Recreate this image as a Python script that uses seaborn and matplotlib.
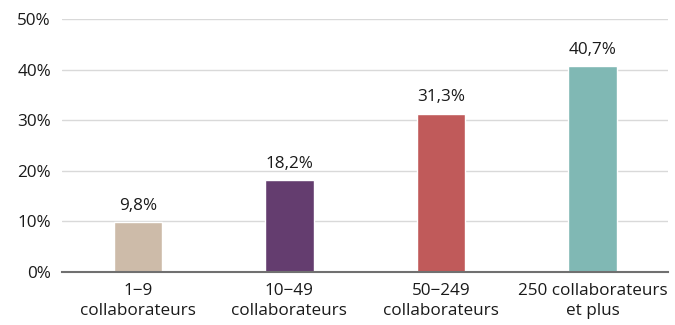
import matplotlib
matplotlib.use("Agg")
import matplotlib.pyplot as plt
import seaborn as sns
import pandas as pd

categories = ["1−9\ncollaborateurs", "10−49\ncollaborateurs", "50−249\ncollaborateurs", "250 collaborateurs\net plus"]
values = [9.8, 18.2, 31.3, 40.7]
value_labels = ["9,8%", "18,2%", "31,3%", "40,7%"]
colors = ["#CDBBA9", "#643D6F", "#C05A5A", "#80B8B4"]
yticks = [0, 10, 20, 30, 40, 50]
ytick_labels = ["0%", "10%", "20%", "30%", "40%", "50%"]

sns.set_theme(style="white")
plt.rcParams['font.family'] = ['Open Sans', 'DejaVu Sans']

df = pd.DataFrame({"cat": categories, "val": values})

fig = plt.figure(figsize=(6.75, 3.25), dpi=100)
ax = fig.add_axes([0.092, 0.163, 0.898, 0.778])
sns.barplot(data=df, x="cat", y="val", hue="cat", palette=colors, width=0.32,
            legend=False, ax=ax, saturation=1, zorder=3)

fs = 12.3
ax.set_ylim(0, 50)
ax.set_xlim(-0.5, 3.5)
ax.set_yticks(yticks)
ax.set_yticklabels(ytick_labels, fontsize=fs, color="#1a1a1a")
ax.tick_params(axis="x", labelsize=fs, colors="#1a1a1a", length=0, pad=8)
ax.tick_params(axis="y", length=0, pad=8)
for t in ax.get_xticklabels():
    t.set_linespacing(1.3)
ax.yaxis.grid(True, color="#D9D9D9", linewidth=1, zorder=0)
ax.set_axisbelow(True)
for s in ["top", "right", "left"]:
    ax.spines[s].set_visible(False)
ax.spines["bottom"].set_color("#707070")
ax.spines["bottom"].set_linewidth(1.5)
ax.spines["bottom"].set_zorder(5)
ax.set_xlabel("")
ax.set_ylabel("")

for i, (v, lab) in enumerate(zip(values, value_labels)):
    ax.annotate(lab, (i, v), xytext=(0, 6), textcoords="offset points",
                ha="center", va="bottom", fontsize=fs, color="#1a1a1a")

fig.savefig("out.png", dpi=100)
